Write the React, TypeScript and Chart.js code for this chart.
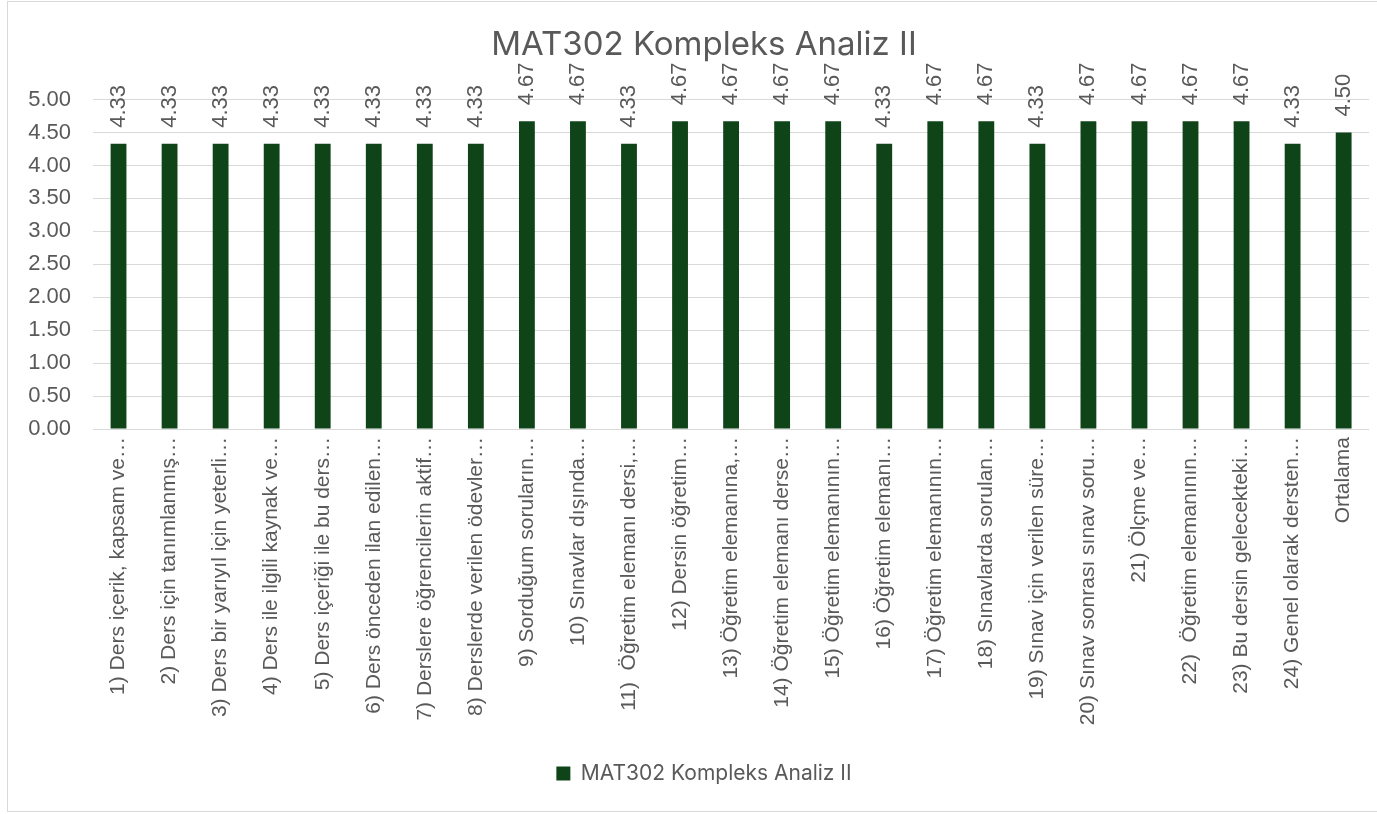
import React, { useEffect, useRef } from "react";
import { Chart, registerables } from "chart.js";

Chart.register(...registerables);

const chartTitle = "MAT302 Kompleks Analiz II";
const seriesName = "MAT302 Kompleks Analiz II";

const categories: string[] = [
  "1) Ders içerik, kapsam ve…",
  "2) Ders için tanımlanmış…",
  "3) Ders bir yarıyıl için yeterli…",
  "4) Ders ile ilgili kaynak ve…",
  "5) Ders içeriği ile bu ders…",
  "6) Ders önceden ilan edilen…",
  "7) Derslere öğrencilerin aktif…",
  "8) Derslerde verilen ödevler…",
  "9) Sorduğum soruların…",
  "10) Sınavlar dışında…",
  "11)  Öğretim elemanı dersi,…",
  "12) Dersin öğretim…",
  "13) Öğretim elemanına,…",
  "14) Öğretim elemanı derse…",
  "15) Öğretim elemanının…",
  "16) Öğretim elemanı…",
  "17) Öğretim elemanının…",
  "18) Sınavlarda sorulan…",
  "19) Sınav için verilen süre…",
  "20) Sınav sonrası sınav soru…",
  "21) Ölçme ve…",
  "22)  Öğretim elemanının…",
  "23) Bu dersin gelecekteki…",
  "24) Genel olarak dersten…",
  "Ortalama",
];

const values: number[] = [
  4.33, 4.33, 4.33, 4.33, 4.33, 4.33, 4.33, 4.33,
  4.67, 4.67, 4.33, 4.67, 4.67, 4.67, 4.67, 4.33,
  4.67, 4.67, 4.33, 4.67, 4.67, 4.67, 4.67, 4.33,
  4.5,
];

const yTicks: number[] = [0, 0.5, 1, 1.5, 2, 2.5, 3, 3.5, 4, 4.5, 5];

const BAR_COLOR = "#0f4318";
const TEXT_COLOR = "#595959";
const GRID_COLOR = "#d9d9d9";
const TICK_FONT = "'Liberation Sans', Arial, sans-serif";
const TITLE_FONT = "Inter, 'Open Sans', sans-serif";

const valueLabelPlugin = {
  id: "valueLabels",
  afterLayout(chart: any) {
    // let the y tick labels extend into the left padding without being clipped
    if (chart.scales.y) chart.scales.y.left = 0;
  },
  afterDatasetsDraw(chart: any) {
    const ctx = chart.ctx;
    chart.data.datasets.forEach((ds: any, di: number) => {
      const meta = chart.getDatasetMeta(di);
      meta.data.forEach((bar: any, i: number) => {
        const v = ds.data[i] as number;
        ctx.save();
        ctx.translate(bar.x, bar.y - 16);
        ctx.rotate(-Math.PI / 2);
        ctx.font = `22px ${TICK_FONT}`;
        ctx.fillStyle = TEXT_COLOR;
        ctx.textAlign = "left";
        ctx.textBaseline = "middle";
        ctx.fillText(v.toFixed(2), 0, 0);
        ctx.restore();
      });
    });
  },
};

export default function App() {
  const canvasRef = useRef<HTMLCanvasElement | null>(null);

  useEffect(() => {
    if (!canvasRef.current) return;
    const chart = new Chart(canvasRef.current, {
      type: "bar",
      data: {
        labels: categories,
        datasets: [
          {
            label: seriesName,
            data: values,
            backgroundColor: BAR_COLOR,
            borderWidth: 0,
            barPercentage: 0.31,
            categoryPercentage: 1,
          },
        ],
      },
      options: {
        responsive: false,
        animation: false,
        layout: { padding: { left: 30, right: 7, top: 0, bottom: 17 } },
        plugins: {
          title: {
            display: true,
            text: chartTitle,
            color: TEXT_COLOR,
            font: { family: TITLE_FONT, size: 33, weight: "normal" },
            padding: { top: 23, bottom: 35 },
          },
          legend: {
            display: true,
            position: "bottom",
            labels: {
              color: TEXT_COLOR,
              font: { family: TITLE_FONT, size: 21 },
              boxWidth: 14,
              boxHeight: 14,
              padding: 10,
            },
          },
          tooltip: { enabled: false },
        },
        scales: {
          x: {
            grid: { display: false, drawTicks: false },
            border: { display: false },
            ticks: {
              color: TEXT_COLOR,
              font: { family: TICK_FONT, size: 21 },
              maxRotation: 90,
              minRotation: 90,
              autoSkip: false,
              padding: 8,
            },
            afterFit: (scale: any) => {
              scale.height = 324;
            },
          },
          y: {
            min: 0,
            max: 5,
            grid: { color: GRID_COLOR, lineWidth: 1, drawTicks: false },
            border: { display: false },
            afterBuildTicks: (scale: any) => {
              scale.ticks = yTicks.map((v) => ({ value: v }));
            },
            ticks: {
              color: TEXT_COLOR,
              font: { family: TICK_FONT, size: 22 },
              padding: 22,
              callback: (v: any) => Number(v).toFixed(2),
            },
            afterFit: (scale: any) => {
              scale.width = 55;
            },
          },
        },
      },
      plugins: [valueLabelPlugin],
    });
    return () => chart.destroy();
  }, []);

  return (
    <div
      style={{
        position: "absolute",
        left: 7,
        top: 1,
        width: 1369,
        height: 809,
        borderLeft: "1px solid #d9d9d9",
        borderTop: "1px solid #d9d9d9",
        borderBottom: "1px solid #d9d9d9",
        background: "#fff",
      }}
    >
      <canvas
        ref={canvasRef}
        width={1369}
        height={809}
        style={{ display: "block", width: 1369, height: 809 }}
      />
    </div>
  );
}
